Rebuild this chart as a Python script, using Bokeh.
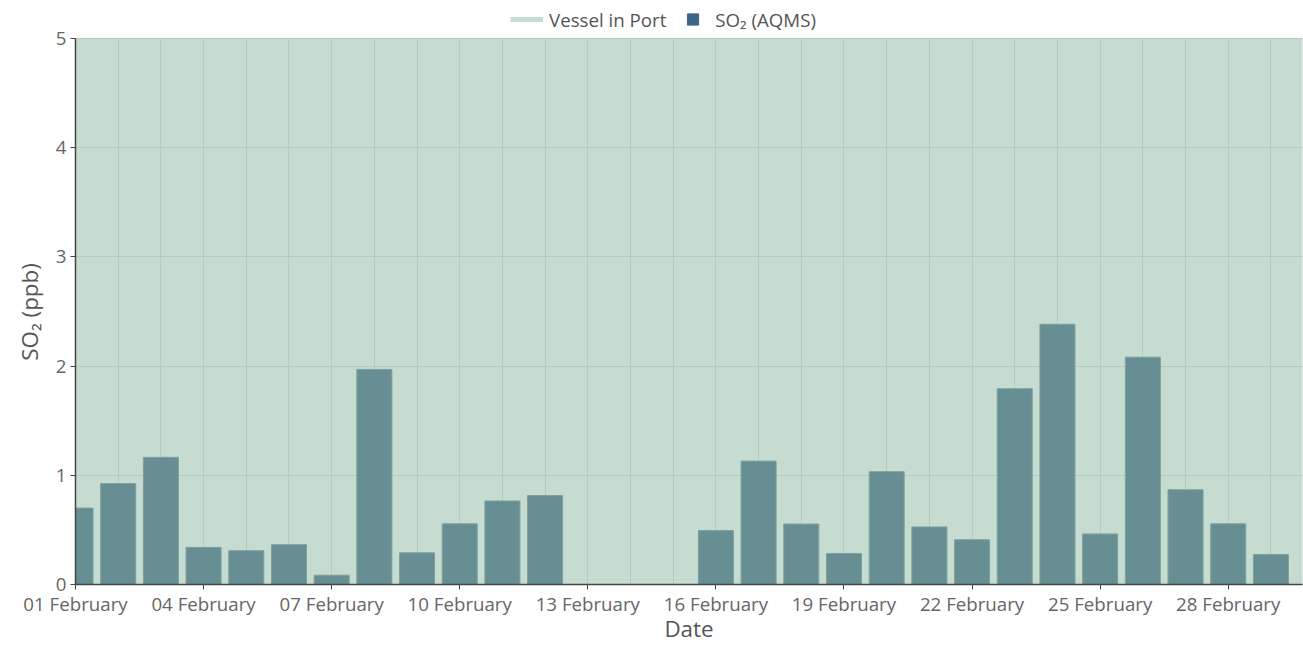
from datetime import datetime, timedelta
import numpy as np
from bokeh.plotting import figure
from bokeh.models import (ColumnDataSource, DaysTicker, DatetimeTickFormatter, Range1d,
                          Legend, LegendItem, FixedTicker)
from bokeh.embed import file_html
from bokeh.resources import INLINE

# ---- data ----
days = list(range(1, 30))  # February 2024 (leap year)
so2_ppb = [0.70, 0.925, 1.165, 0.34, 0.31, 0.365, 0.085, 1.97, 0.29, 0.556,
           0.765, 0.815, None, None, None, 0.494, 1.13, 0.554, 0.284, 1.033,
           0.527, 0.41, 1.793, 2.383, 0.463, 2.082, 0.868, 0.556, 0.275]
vessel_start = [datetime(2024, 1, 31)]
vessel_end = [datetime(2024, 3, 2)]
y_ticks = [0, 1, 2, 3, 4, 5]
x_tick_days = [1, 4, 7, 10, 13, 16, 19, 22, 25, 28]
series_names = ["Vessel in Port", "SO₂ (AQMS)"]

dates = [datetime(2024, 2, d) for d in days]
bx = [d for d, v in zip(dates, so2_ppb) if v is not None]
by = [v for v in so2_ppb if v is not None]

FONT = "Open Sans"
BG = "#c6dcd1"
Y_MAX = 5
# frame spans from y=4px to y=584px; the data area (0..5) occupies the lower 546px,
# the upper part hosts the legend
FRAME_TOP, PLOT_TOP, PLOT_BOTTOM = 4, 38, 584
y_end = Y_MAX * (PLOT_BOTTOM - FRAME_TOP) / (PLOT_BOTTOM - PLOT_TOP)

p = figure(width=1303, height=646, x_axis_type="datetime",
           output_backend="svg", toolbar_location=None,
           x_range=Range1d(datetime(2024, 2, 1), datetime(2024, 2, 29, 17, 45)),
           y_range=Range1d(0, y_end),
           min_border_left=75, min_border_right=1, min_border_top=FRAME_TOP,
           min_border_bottom=62)
p.outline_line_color = None
p.background_fill_color = "white"
p.border_fill_color = "white"

# vessel in port area
q = p.quad(left=vessel_start, right=vessel_end, bottom=0, top=Y_MAX,
           fill_color=BG, line_color=None, level="image")

# bars
src = ColumnDataSource(dict(x=bx, top=by))
bars = p.vbar(x="x", top="top", width=timedelta(hours=19.7).total_seconds() * 1000,
              source=src, fill_color="#678f93", line_color="#7da1a1", line_width=1)

# grids
p.xgrid.ticker = DaysTicker(days=list(range(1, 32)))
p.xgrid.cross_bounds = (0, Y_MAX)
p.xgrid.grid_line_color = "#b3cbc0"
p.xgrid.grid_line_width = 1
p.ygrid.ticker = FixedTicker(ticks=y_ticks)
p.ygrid.grid_line_color = "#b3cbc0"
p.ygrid.grid_line_width = 1

# axes
p.xaxis.ticker = DaysTicker(days=x_tick_days)
p.xaxis.formatter = DatetimeTickFormatter(days="%d %B", months="%d %B")
p.yaxis.ticker = FixedTicker(ticks=y_ticks)
p.yaxis.bounds = (0, Y_MAX)
for ax in (p.xaxis[0], p.yaxis[0]):
    ax.axis_line_color = "#444444"
    ax.axis_line_width = 1.5
    ax.major_tick_line_color = "#444444"
    ax.major_tick_out = 5
    ax.major_tick_in = 0
    ax.minor_tick_line_color = None
    ax.major_label_text_font = FONT
    ax.major_label_text_font_size = "18.7px"
    ax.major_label_text_color = "#666666"
    ax.axis_label_text_font = FONT
    ax.axis_label_text_font_size = "22.4px"
    ax.axis_label_text_color = "#555555"
    ax.axis_label_text_font_style = "normal"
p.xaxis.axis_label = "Date"
p.yaxis.axis_label = "SO₂ (ppb)" + "\u00a0" * 6
p.xaxis.major_label_standoff = 1
p.xaxis.axis_label_standoff = -6
p.yaxis.major_label_standoff = 4
p.yaxis.axis_label_standoff = 8

# legend (dummy renderers with NaN data: nothing drawn in the plot)
leg_line = p.line(x=vessel_start, y=[np.nan], line_color=BG, line_width=5)
leg_sq = p.scatter(x=vessel_start, y=[np.nan], marker="square", size=11,
                   fill_color="#3d6587", line_color="#3d6587")
legend = Legend(items=[LegendItem(label=series_names[0], renderers=[leg_line]),
                       LegendItem(label=series_names[1], renderers=[leg_sq])],
                orientation="horizontal", location=(435, 551),
                glyph_width=33, glyph_height=28, padding=0, margin=0, spacing=10,
                label_standoff=6, background_fill_alpha=0, border_line_color=None,
                label_text_font=FONT, label_text_font_size="18.7px",
                label_text_color="#555555")
p.add_layout(legend, "center")

open("out.html", "w").write(file_html(p, INLINE))
